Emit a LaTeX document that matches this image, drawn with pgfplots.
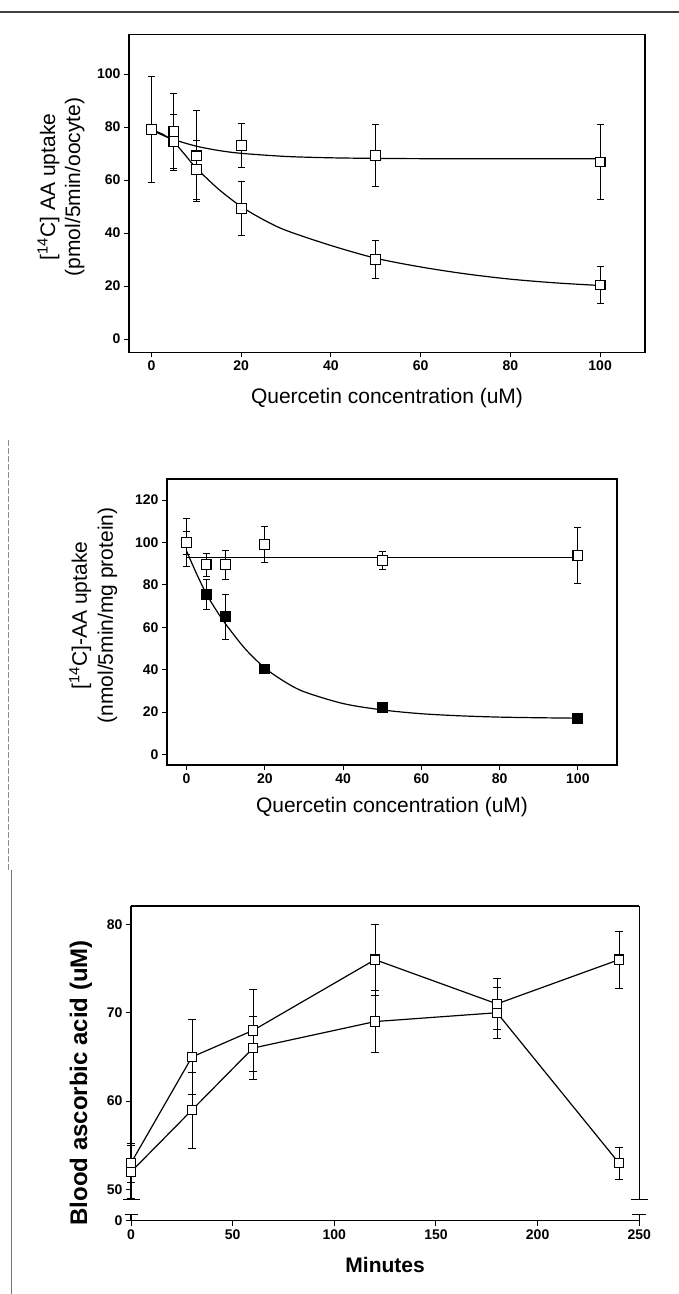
\documentclass[border=0pt]{standalone}
\usepackage{pgfplots}
\pgfplotsset{compat=1.18}
\usepackage{pgfplotstable}
\usepackage{fontspec}
\setmainfont{Liberation Sans}

% Panel 1
\pgfplotstableread{
x y e
0 79 20
5 78.2 14.6
10 69.1 17
20 73.1 8.4
50 69.2 11.7
100 66.8 14
}\pA
\pgfplotstableread{
x y e
0 79 20
5 74.6 10.2
10 63.9 11.1
20 49.3 10.2
50 30.1 7.2
100 20.4 7.1
}\pB
% Panel 2
\pgfplotstableread{
x y e
0 100 11.3
5 89.5 5.3
10 89.5 6.7
20 99.2 8.6
50 91.6 4.2
100 93.9 13.0
}\qA
\pgfplotstableread{
x y e
0 100 5.4
5 75.5 7
10 65 10.7
20 40.3 0
50 22.3 0
100 17.1 0
}\qB
% Panel 3
\pgfplotstableread{
x y e
0 53 2.2
30 65 4.2
60 68 4.6
120 76 4
180 71 2.9
240 76 3.2
}\rA
\pgfplotstableread{
x y e
0 52 3.0
30 59 4.3
60 66 3.6
120 69 3.5
180 70 2.9
240 53 1.8
}\rB

\pgfplotsset{
  panel/.style={scale only axis, anchor=south west, clip=false,
    tick align=outside, major tick length=5pt, tick pos=left,
    axis line style={line width=1.2pt},
    every tick/.style={line width=1pt, black},
    tick label style={font=\fontsize{14}{14}\selectfont\bfseries},
    /pgf/number format/assume math mode=true,
    label style={font=\fontsize{21}{25}\selectfont},
  },
  ebar/.style={error bars/.cd, y dir=both, y explicit,
    error bar style={line width=0.9pt},
    error mark options={rotate=90, mark size=3.6pt, line width=0.9pt}},
  openmk/.style={only marks, mark=square*, mark size=4.9pt,
    mark options={fill=white, draw=black, line width=1.1pt}},
  fillmk/.style={only marks, mark=square*, mark size=4.9pt,
    mark options={fill=black, draw=black, line width=1.1pt}},
}

\begin{document}
\begin{tikzpicture}
\useasboundingbox (0pt,0pt) rectangle (679pt,1294pt);

% page artefacts
\draw[line width=1.5pt, black!75] (0pt,1282pt) -- (679pt,1282pt);
\draw[line width=0.7pt, black!45, dash pattern=on 6pt off 2pt] (8.5pt,854pt) -- (8.5pt,424pt);
\draw[line width=0.8pt, black!55] (11.5pt,424pt) -- (11.5pt,0pt);

% ---------------- Panel 1 ----------------
\begin{axis}[panel, at={(129pt,941.7pt)}, width=516pt, height=318pt,
  xmin=-5, xmax=110, ymin=-5, ymax=115,
  xtick={0,20,...,100}, ytick={0,20,...,100},
  xlabel={Quercetin concentration (uM)},
  ylabel={[\textsuperscript{14}C] AA uptake\\(pmol/5min/oocyte)},
  xlabel style={at={(axis description cs:0.5,-0.1447)}, anchor=center},
  ylabel style={at={(axis description cs:-0.1318,0.52)}, anchor=center, align=center},
]
\addplot[smooth, line width=1.2pt] coordinates {(0,79) (2,77.31) (5,75.25) (10,72.78) (15,71.15) (20,70.08) (30,68.9) (40,68.39) (50,68.17) (60,68.07) (80,68.01) (100,68.0)};
\addplot[smooth, line width=1.2pt] coordinates {(0,79) (2.5,77.3) (5,74.3) (7.5,69.5) (10,64.5) (15,56.5) (20,50) (25,45) (30,41) (40,35.3) (50,30.5) (60,27.2) (70,24.6) (80,22.6) (90,21.2) (100,20.2)};
\addplot[openmk, ebar] table[x=x, y=y, y error=e] {\pB};
\addplot[openmk, ebar] table[x=x, y=y, y error=e] {\pA};
\end{axis}

% ---------------- Panel 2 ----------------
\begin{axis}[panel, at={(167pt,529pt)}, width=450pt, height=286pt,
  xmin=-5, xmax=110, ymin=-5, ymax=130,
  xtick={0,20,...,100}, ytick={0,20,...,120},
  xlabel={Quercetin concentration (uM)},
  ylabel={[\textsuperscript{14}C]-AA uptake\\(nmol/5min/mg protein)},
  xlabel style={at={(axis description cs:0.5,-0.146)}, anchor=center},
  ylabel style={at={(axis description cs:-0.164,0.523)}, anchor=center, align=center, font=\fontsize{21}{26}\selectfont},
]
\addplot[line width=1.2pt] coordinates {(0,93) (100,93)};
\addplot[smooth, line width=1.2pt] coordinates {(0,96) (2.5,85.5) (5,76) (7.5,68.3) (10,61.5) (15,49.8) (20,40.8) (25,34.4) (30,29.6) (40,24.0) (50,21.0) (60,19.2) (70,18.2) (80,17.6) (90,17.3) (100,17.1)};
\addplot[fillmk, ebar] table[x=x, y=y, y error=e] {\qB};
\addplot[openmk, ebar] table[x=x, y=y, y error=e] {\qA};
\end{axis}

% ---------------- Panel 3 (broken axis) ----------------
\begin{axis}[panel, at={(131pt,94.7pt)}, width=508.3pt, height=293.3pt,
  xmin=0, xmax=250, ymin=48.9, ymax=82.07,
  axis x line=none, axis y line*=box, axis line style={-},
  xtick=\empty, ytick={50,60,70,80}, ytick pos=left,
  ylabel={\bfseries Blood ascorbic acid (uM)},
  ylabel style={at={(axis description cs:-0.0984,0.397)}, anchor=center, font=\fontsize{24}{26}\selectfont},
]
\draw[line width=1.2pt] (rel axis cs:0,1) -- (rel axis cs:1,1);
\addplot[line width=1.2pt, mark=square*, mark size=4.7pt,
  mark options={fill=white, draw=black, line width=1.1pt, solid}, ebar] table[x=x, y=y, y error=e] {\rB};
\addplot[line width=1.2pt, mark=square*, mark size=4.7pt,
  mark options={fill=white, draw=black, line width=1.1pt, solid}, ebar] table[x=x, y=y, y error=e] {\rA};
\end{axis}
\begin{axis}[panel, at={(131pt,73.3pt)}, width=508.3pt, height=6.4pt,
  xmin=0, xmax=250, ymin=0, ymax=1,
  axis x line*=bottom, axis y line*=box, axis line style={-},
  xtick={0,50,...,250}, ytick={0}, ytick pos=left, xtick pos=bottom,
  xlabel={\bfseries Minutes},
  xlabel style={at={(axis description cs:0.5,0)}, anchor=center, yshift=-44pt},
]
\end{axis}
% axis break marks
\draw[line width=1.1pt] (123pt,94.7pt) -- (140pt,94.7pt);
\draw[line width=1.1pt] (631pt,94.7pt) -- (648pt,94.7pt);
\draw[line width=1.1pt] (125pt,79.7pt) -- (138pt,79.7pt);
\draw[line width=1.1pt] (632pt,79.7pt) -- (646pt,79.7pt);
\end{tikzpicture}
\end{document}
